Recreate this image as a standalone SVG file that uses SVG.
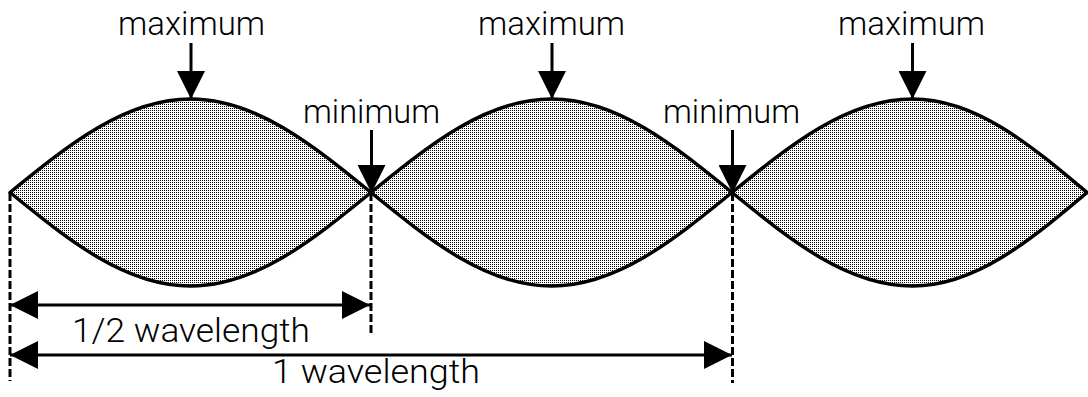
<svg xmlns="http://www.w3.org/2000/svg" width="1088" height="397" viewBox="0 0 1088 397">
<style>
.lobe{fill:url(#dots);stroke:#000;stroke-width:3.5;stroke-linejoin:round}
.lbl{font-family:Roboto,"Liberation Sans",Arial,sans-serif;font-weight:300;font-size:33px;fill:#000;text-anchor:middle}
.arr{stroke:#000;stroke-width:3;fill:none}
.dash{stroke:#000;stroke-width:3;stroke-dasharray:8 3;fill:none}
</style>
<defs>
<pattern id="dots" patternUnits="userSpaceOnUse" width="2" height="2">
<rect width="2" height="2" fill="#fff"/>
<rect width="1" height="1" fill="#000"/>
</pattern>
<marker id="ah" markerUnits="userSpaceOnUse" markerWidth="28" markerHeight="28" refX="28" refY="14" orient="auto" viewBox="0 0 28 28">
<path d="M0,0 L28,14 L0,28 Z" fill="#000"/>
</marker>
<marker id="ahs" markerUnits="userSpaceOnUse" markerWidth="28" markerHeight="28" refX="28" refY="14" orient="auto-start-reverse" viewBox="0 0 28 28">
<path d="M0,0 L28,14 L0,28 Z" fill="#000"/>
</marker>
</defs>
<g id="wave">
<path class="lobe" d="M10,192.5 C68.9,144.6 125.2,99 190.5,99 C255.8,99 312.1,144.6 371,192.5 C312.1,240.4 255.8,286 190.5,286 C125.2,286 68.9,240.4 10,192.5Z"/>
<path class="lobe" d="M371,192.5 C429.9,144.6 486.2,99 551.5,99 C616.8,99 673.1,144.6 732,192.5 C673.1,240.4 616.8,286 551.5,286 C486.2,286 429.9,240.4 371,192.5Z"/>
<path class="lobe" d="M732,192.5 C790.9,144.6 847.2,99 912.5,99 C975.6,99 1030.1,144.6 1087,192.5 C1030.1,240.4 975.6,286 912.5,286 C847.2,286 790.9,240.4 732,192.5Z"/>
</g>
<g id="max1"><text class="lbl" x="191.5" y="35" textLength="147" lengthAdjust="spacingAndGlyphs">maximum</text></g>
<g id="max2"><text class="lbl" x="551.5" y="35" textLength="147" lengthAdjust="spacingAndGlyphs">maximum</text></g>
<g id="max3"><text class="lbl" x="911.5" y="35" textLength="147" lengthAdjust="spacingAndGlyphs">maximum</text></g>
<g id="min1"><text class="lbl" x="371.5" y="123" textLength="137" lengthAdjust="spacingAndGlyphs">minimum</text></g>
<g id="min2"><text class="lbl" x="731.5" y="123" textLength="137" lengthAdjust="spacingAndGlyphs">minimum</text></g>
<g id="half"><text class="lbl" x="191" y="342" textLength="238" lengthAdjust="spacingAndGlyphs">1/2 wavelength</text></g>
<g id="full"><text class="lbl" x="376" y="383" textLength="208" lengthAdjust="spacingAndGlyphs">1 wavelength</text></g>
<g id="connectors">
<line class="arr" x1="191" y1="43" x2="191" y2="99" marker-end="url(#ah)"/>
<line class="arr" x1="552" y1="43" x2="552" y2="99" marker-end="url(#ah)"/>
<line class="arr" x1="912.5" y1="43" x2="912.5" y2="99" marker-end="url(#ah)"/>
<line class="arr" x1="371.5" y1="130" x2="371.5" y2="193" marker-end="url(#ah)"/>
<line class="arr" x1="732.5" y1="130" x2="732.5" y2="193" marker-end="url(#ah)"/>
<line class="dash" x1="10" y1="193" x2="10" y2="381"/>
<line class="dash" x1="371" y1="193" x2="371" y2="333"/>
<line class="dash" x1="732.5" y1="193" x2="732.5" y2="383"/>
<line class="arr" x1="10" y1="305" x2="370" y2="305" marker-start="url(#ahs)" marker-end="url(#ahs)"/>
<line class="arr" x1="10" y1="355" x2="732" y2="355" marker-start="url(#ahs)" marker-end="url(#ahs)"/>
</g>
</svg>
